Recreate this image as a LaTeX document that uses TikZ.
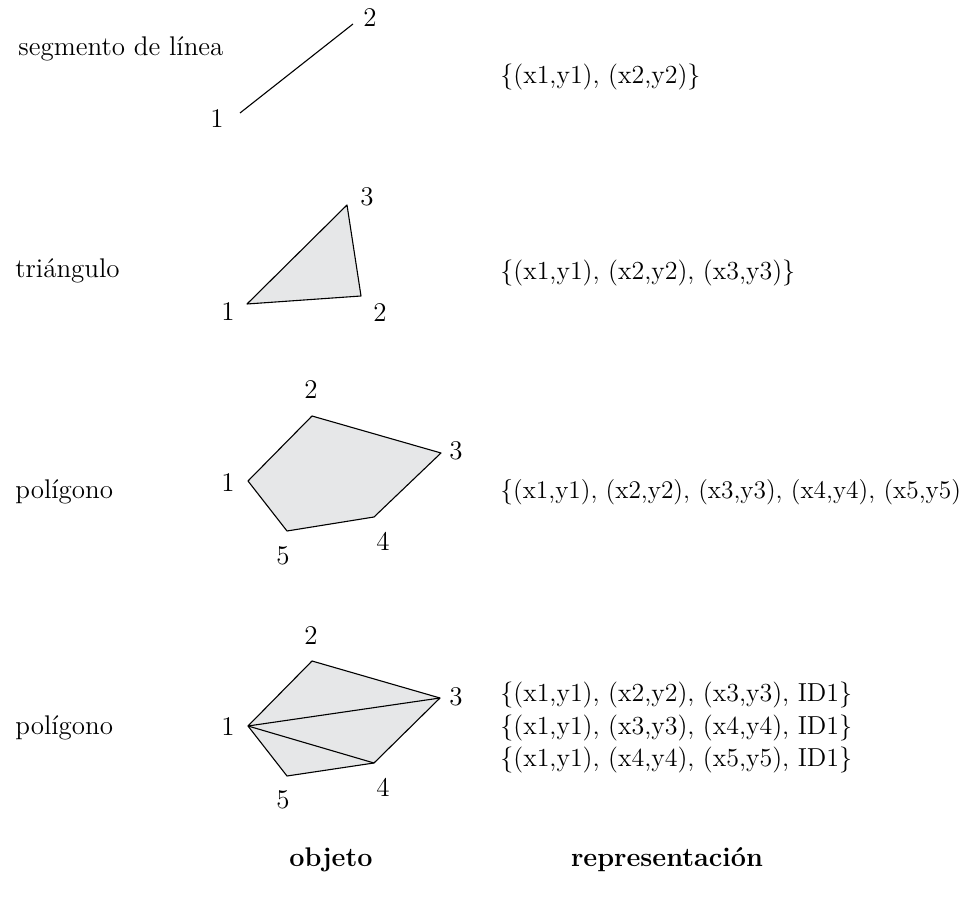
\documentclass[tikz,border=0pt]{standalone}
\usepackage{xcolor}
\usepackage{tikz}
\usetikzlibrary{positioning}

\definecolor{polyfill}{HTML}{E6E7E8}

\begin{document}
\begin{tikzpicture}[x=0.5pt, y=-0.5pt,
  every node/.style={inner sep=0pt, font=\fontsize{13.5}{16}\selectfont},
  num/.style={anchor=center},
  obj/.style={anchor=base west},
  rep/.style={anchor=base west, font=\fontsize{13}{16}\selectfont},
  head/.style={anchor=base, font=\fontsize{13.5}{16}\selectfont\bfseries},
  polyshape/.style={draw, line width=0.55pt, line join=round, fill=polyfill}]
\useasboundingbox (0,0) rectangle (965,898);

% segmento de linea
\node[obj] (o1) at (18,56) {segmento de línea};
\coordinate (s1) at (240,113);
\coordinate (s2) at (353,24);
\draw[line width=0.55pt] (s1) -- (s2);
\node[num] (s1l) at (217,119) {1};
\node[num] (s2l) at (370,18) {2};
\node[rep] (r1) at (500,84) {\{(x1,y1), (x2,y2)\}};

% triangulo
\node[obj] (o2) at (15,278) {triángulo};
\coordinate (t1) at (247,304);
\coordinate (t2) at (361,296);
\coordinate (t3) at (347,205);
\draw[polyshape] (t1) -- (t2) -- (t3) -- cycle;
\node[num] (t1l) at (228,312) {1};
\node[num] (t2l) at (380,313) {2};
\node[num] (t3l) at (367,197) {3};
\node[rep] (r2) at (500,280) {\{(x1,y1), (x2,y2), (x3,y3)\}};

% poligono
\node[obj] (o3) at (15,499) {polígono};
\coordinate (p1) at (248,481);
\coordinate (p2) at (312,416);
\coordinate (p3) at (441,453);
\coordinate (p4) at (374,517);
\coordinate (p5) at (287,531);
\draw[polyshape] (p1) -- (p2) -- (p3) -- (p4) -- (p5) -- cycle;
\node[num] (p1l) at (228,483) {1};
\node[num] (p2l) at (311,390) {2};
\node[num] (p3l) at (456,451) {3};
\node[num] (p4l) at (383,541) {4};
\node[num] (p5l) at (283,556) {5};
\node[rep, font=\fontsize{12.7}{16}\selectfont] (r3) at (500,499) {\{(x1,y1), (x2,y2), (x3,y3), (x4,y4), (x5,y5)};

% poligono triangulado
\node[obj] (o4) at (15,735) {polígono};
\coordinate (q1) at (248,726);
\coordinate (q2) at (312,661);
\coordinate (q3) at (440,698);
\coordinate (q4) at (374,763);
\coordinate (q5) at (287,776);
\draw[polyshape] (q1) -- (q2) -- (q3) -- (q4) -- (q5) -- cycle;
\draw[line width=0.55pt] (q1) -- (q3);
\draw[line width=0.55pt] (q1) -- (q4);
\node[num] (q1l) at (228,727) {1};
\node[num] (q2l) at (311,636) {2};
\node[num] (q3l) at (456,697) {3};
\node[num] (q4l) at (383,787) {4};
\node[num] (q5l) at (283,800) {5};
\node[rep] (r4a) at (500,702) {\{(x1,y1), (x2,y2), (x3,y3), ID1\}};
\node[rep] (r4b) at (500,735) {\{(x1,y1), (x3,y3), (x4,y4), ID1\}};
\node[rep] (r4c) at (500,767) {\{(x1,y1), (x4,y4), (x5,y5), ID1\}};

% encabezados
\node[head] (h1) at (331,866) {objeto};
\node[head] (h2) at (667,866) {representación};
\end{tikzpicture}
\end{document}
